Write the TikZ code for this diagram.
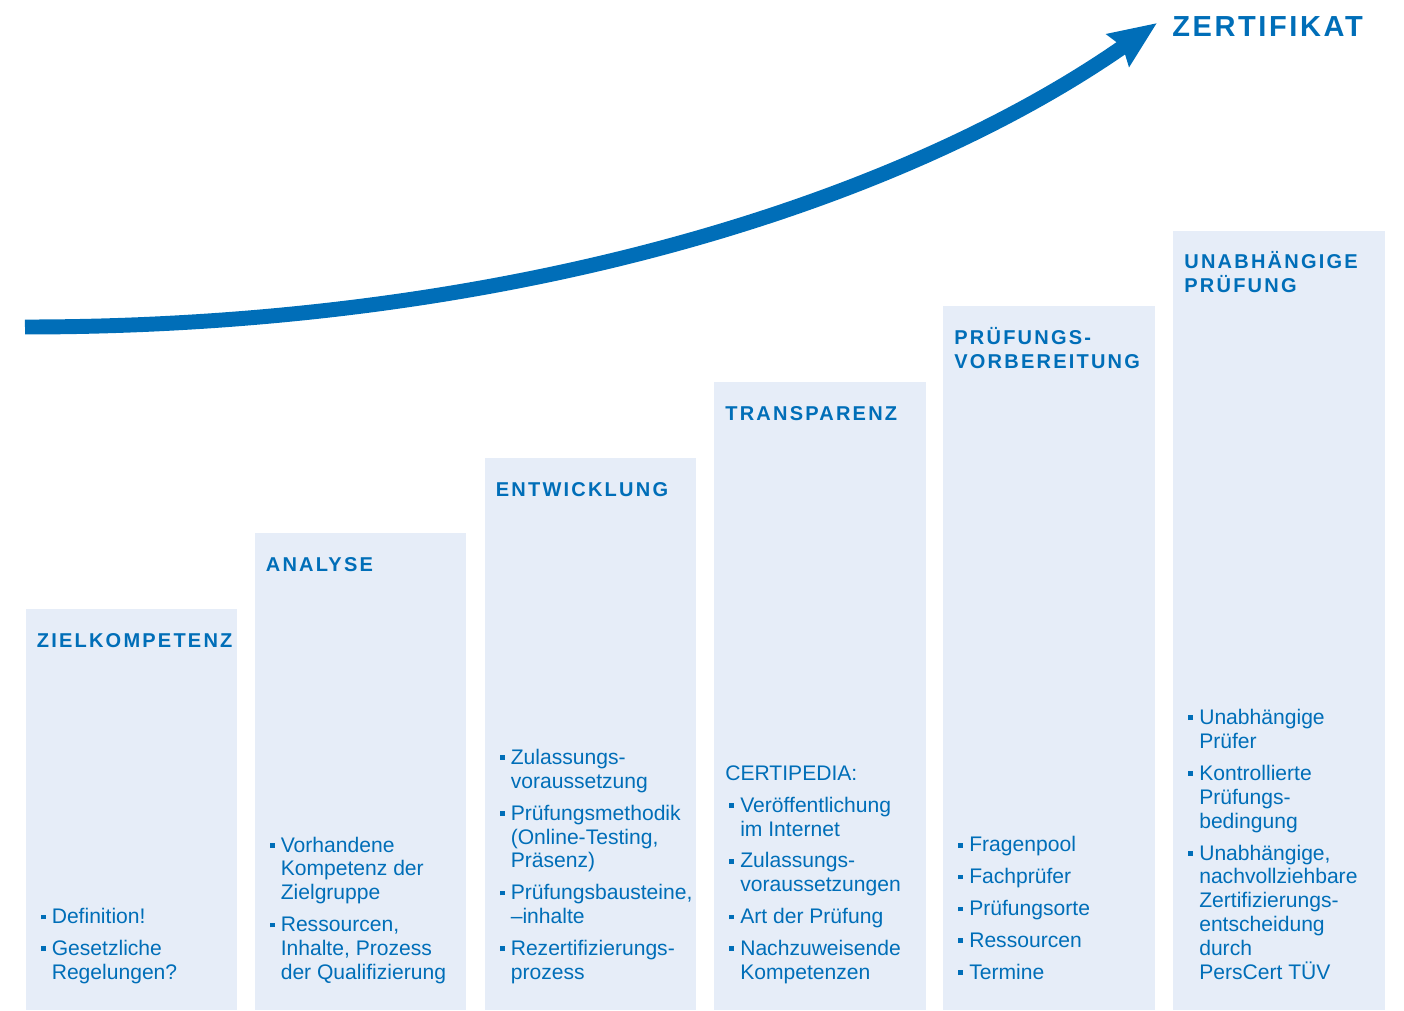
\documentclass[tikz,border=0pt]{standalone}
\usepackage{fontspec}
\setmainfont{Liberation Sans}
\newfontfamily\headfont[LetterSpace=11]{Liberation Sans}
\newfontfamily\goalfont[LetterSpace=9]{Liberation Sans}
\usetikzlibrary{arrows.meta}
\definecolor{tblue}{RGB}{0,110,184}
\definecolor{tfill}{RGB}{230,237,248}
\newcommand{\itm}{\par\noindent\hangindent=8.5pt\hangafter=1\makebox[8.5pt][l]{\hspace{2.3pt}\rule[2.5pt]{2.7pt}{2.7pt}}}
\tikzset{
  col/.style={fill=tfill},
  head/.style={anchor=base west, inner sep=0pt, text width=4.2cm, align=left, text=tblue,
    execute at begin node={\headfont\bfseries\fontsize{11.4}{13.66}\selectfont}},
  body/.style={anchor=south west, inner sep=0pt, text width=4.3cm, align=left, text=tblue,
    execute at begin node={\fontsize{12}{13.6}\selectfont\setlength{\parskip}{4.55pt}}},
  goal/.style={anchor=base west, inner sep=0pt, text=tblue,
    execute at begin node={\goalfont\bfseries\fontsize{16.5}{20}\selectfont}}
}
\begin{document}
\begin{tikzpicture}[x=0.02cm, y=-0.02cm]
\useasboundingbox (0,0) rectangle (1404,1011);
\fill[col] (25.5,609) rectangle (237,1010);
\fill[col] (254.5,533) rectangle (466,1010);
\fill[col] (484.5,458) rectangle (696,1010);
\fill[col] (714,382) rectangle (925.5,1010);
\fill[col] (943,306) rectangle (1155,1010);
\fill[col] (1173,231) rectangle (1385,1010);
\node[head] (T1)at(36.5, 647) {ZIELKOMPETENZ};
\node[head] (T2)at(265.5, 571) {ANALYSE};
\node[head] (T3)at(495.5, 496) {ENTWICKLUNG};
\node[head] (T4)at(725, 420) {TRANSPARENZ};
\node[head] (T5)at(954, 344) {PRÜFUNGS-\\VORBEREITUNG};
\node[head] (T6)at(1184, 268) {UNABHÄNGIGE\\PRÜFUNG};
\node[body] (L1)at(36.5, 987) {\itm Definition!\itm Gesetzliche\newline Regelungen?\strut\par};
\node[body] (L2)at(265.5, 987) {\itm Vorhandene\newline Kompetenz der\newline Zielgruppe\itm Ressourcen,\newline Inhalte, Prozess\newline der Qualifizierung\strut\par};
\node[body] (L3)at(495.5, 987) {\itm Zulassungs-\newline voraussetzung\itm Prüfungsmethodik\newline (Online-Testing,\newline Präsenz)\itm Prüfungsbausteine,\newline –inhalte\itm Rezertifizierungs-\newline prozess\strut\par};
\node[body] (L4)at(725, 987) {\par\noindent CERTIPEDIA:\itm Veröffentlichung\newline im Internet\itm Zulassungs-\newline voraussetzungen\itm Art der Prüfung\itm Nachzuweisende\newline Kompetenzen\strut\par};
\node[body] (L5)at(954, 987) {\itm Fragenpool\itm Fachprüfer\itm Prüfungsorte\itm Ressourcen\itm Termine\strut\par};
\node[body] (L6)at(1184, 987) {\itm Unabhängige\newline Prüfer\itm Kontrollierte\newline Prüfungs-\newline bedingung\itm Unabhängige,\newline nachvollziehbare\newline Zertifizierungs-\newline entscheidung\newline durch\newline PersCert TÜV\strut\par};
\node[goal] (Z)at(1172, 36.7) {ZERTIFIKAT};
\coordinate (start) at (25,327);
\coordinate (tip) at (1157,23);
\draw[tblue, line width=8.5pt, -{Stealth[length=26.7pt, width=21.6pt, inset=3pt]}] (start) .. controls (525,327) and (911,195) .. (tip);
\end{tikzpicture}
\end{document}
